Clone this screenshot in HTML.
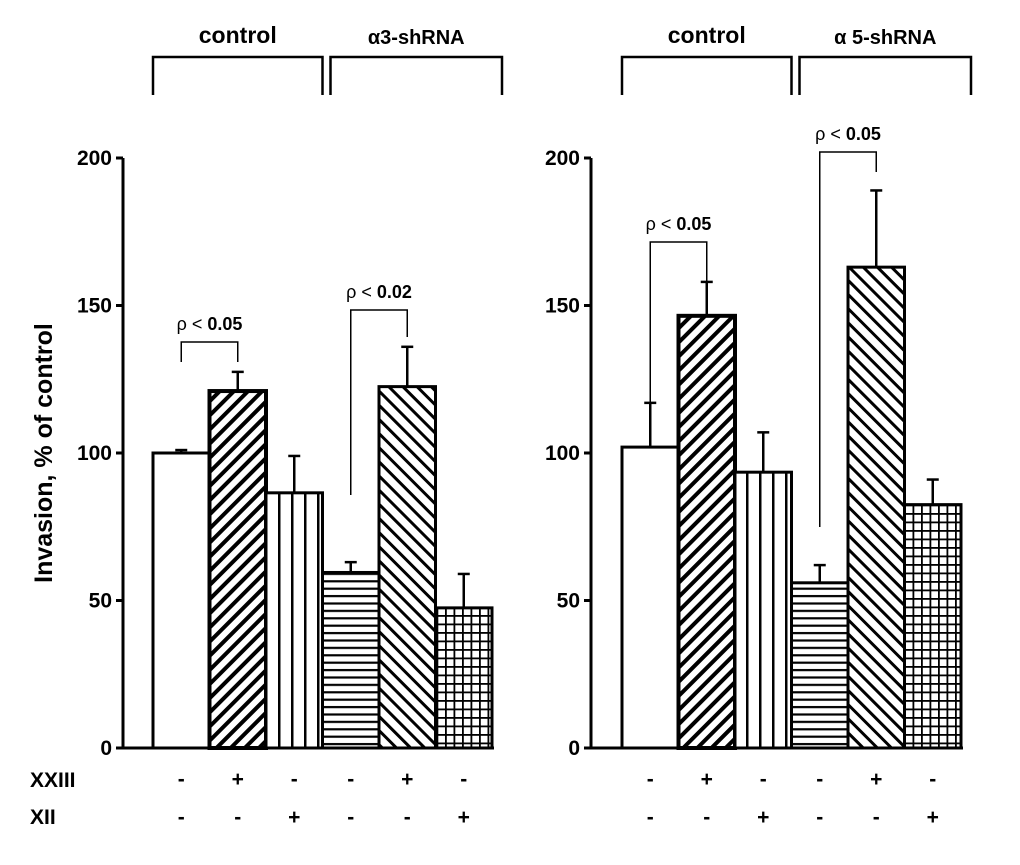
<!DOCTYPE html>
<html><head><meta charset="utf-8"><style>body{margin:0;background:#fff}svg{display:block}text{font-family:"Liberation Sans",sans-serif;fill:#000}</style></head>
<body>
<svg id="chart" width="1020" height="865" viewBox="0 0 1020 865">
<defs>
<pattern id="pFwd" patternUnits="userSpaceOnUse" width="10" height="10" patternTransform="rotate(45)"><rect width="10" height="10" fill="#fff"/><rect x="0" y="0" width="4" height="10" fill="#000"/></pattern>
<pattern id="pBack" patternUnits="userSpaceOnUse" width="10" height="10" patternTransform="rotate(-45)"><rect width="10" height="10" fill="#fff"/><rect x="0" y="0" width="3" height="10" fill="#000"/></pattern>
<pattern id="pVert" patternUnits="userSpaceOnUse" width="13" height="10"><rect width="13" height="10" fill="#fff"/><rect x="5" y="0" width="2.5" height="10" fill="#000"/></pattern>
<pattern id="pHorz" patternUnits="userSpaceOnUse" width="10" height="7.4"><rect width="10" height="7.4" fill="#fff"/><rect x="0" y="3" width="10" height="2.2" fill="#000"/></pattern>
<pattern id="pGrid" patternUnits="userSpaceOnUse" width="8.5" height="8.5"><rect width="8.5" height="8.5" fill="#fff"/><rect x="3" y="0" width="1.8" height="8.5" fill="#000"/><rect x="0" y="3" width="8.5" height="1.8" fill="#000"/></pattern>
</defs>
<g id="root"></g>
</svg>
<script>
const ticks=[0,50,100,150,200];
const leftValues=[100,121,86.5,59.5,122.5,47.5];
const leftErrors=[1,6.5,12.5,3.5,13.5,11.5];
const rightValues=[102,146.5,93.5,56,163,82.5];
const rightErrors=[15,11.5,13.5,6,26,8.5];
const xxiii=['-','+','-','-','+','-'];
const xii=['-','-','+','-','-','+'];
const fills=['#fff','url(#pFwd)','url(#pVert)','url(#pHorz)','url(#pBack)','url(#pGrid)'];
const NS='http://www.w3.org/2000/svg';
const root=document.getElementById('root');
function mk(tag,attrs,parent){const e=document.createElementNS(NS,tag);for(const k in attrs)e.setAttribute(k,attrs[k]);(parent||root).appendChild(e);return e;}
const y0=748,ppu=2.95;
function yS(v){return y0-v*ppu;}
function panel(axisX,barX,values,errors,groupLabels,pvals,name){
  const g=mk('g',{});
  
  
  mk('line',{x1:axisX,y1:yS(200),x2:axisX,y2:y0,stroke:'#000','stroke-width':3},g);
  const bw=56.5;
  mk('line',{x1:axisX,y1:y0,x2:barX+bw*6+2,y2:y0,stroke:'#000','stroke-width':3},g);
  ticks.forEach(t=>{
    mk('line',{x1:axisX-7,y1:yS(t),x2:axisX,y2:yS(t),stroke:'#000','stroke-width':3},g);
    const tx=mk('text',{x:axisX-11,y:yS(t)+7,'text-anchor':'end','font-size':21,'font-weight':'bold'},g);
    tx.textContent=t;
    
    
  });
  values.forEach((v,i)=>{
    const x=barX+i*bw,cx=x+bw/2;
    const ey=yS(v+errors[i]);
    mk('line',{x1:cx,y1:yS(v),x2:cx,y2:ey,stroke:'#000','stroke-width':2.5},g);
    mk('line',{x1:cx-6,y1:ey,x2:cx+6,y2:ey,stroke:'#000','stroke-width':2.5},g);
    const r=mk('rect',{x:x,y:yS(v),width:bw,height:v*ppu,fill:fills[i],stroke:'#000','stroke-width':i==1?4:3},g);
    
    
    const a=mk('text',{x:cx,y:786,'text-anchor':'middle','font-size':21,'font-weight':'bold'},g);a.textContent=xxiii[i];
    const b=mk('text',{x:cx,y:824,'text-anchor':'middle','font-size':21,'font-weight':'bold'},g);b.textContent=xii[i];
  });
  groupLabels.forEach((lab,k)=>{
    const x1=barX+k*3*bw+(k?8:0),x2=barX+(k+1)*3*bw-(k?-10:0);
    mk('path',{d:`M${x1} 95 V57 H${x2} V95`,fill:'none',stroke:'#000','stroke-width':2.5},g);
    const t=mk('text',{x:(x1+x2)/2,y:k?44:43,'text-anchor':'middle','font-size':k?20:23,'font-weight':'bold'},g);
    t.textContent=lab;
    
    
  });
  pvals.forEach(p=>{
    const a=barX+p.i*bw+bw/2,b=barX+(p.i+1)*bw+bw/2;
    mk('path',{d:`M${a} ${p.ya} V${p.top} H${b} V${p.yb}`,fill:'none',stroke:'#000','stroke-width':1.5},g);
    const t=mk('text',{x:(a+b)/2,y:p.top-12,'text-anchor':'middle','font-size':18,'font-weight':'bold'},g);
    t.innerHTML='<tspan font-weight="normal">ρ &lt; </tspan>'+p.label;
    
    
  });
}
panel(123,153,leftValues,leftErrors,['control','α3-shRNA'],[{i:0,ya:362,top:342,yb:362,label:'0.05'},{i:3,ya:495,top:310,yb:337,label:'0.02'}],'left-panel');
panel(591,622,rightValues,rightErrors,['control','α 5-shRNA'],[{i:0,ya:402,top:242,yb:282,label:'0.05'},{i:3,ya:527,top:152,yb:172,label:'0.05'}],'right-panel');
const yl=mk('text',{x:0,y:0,transform:'translate(52,453) rotate(-90)','text-anchor':'middle','font-size':25,'font-weight':'bold'});
yl.textContent='Invasion, % of control';


const r1=mk('text',{x:30,y:787,'font-size':21,'font-weight':'bold'});r1.textContent='XXIII';


const r2=mk('text',{x:30,y:824,'font-size':21,'font-weight':'bold'});r2.textContent='XII';


</script>
</body></html>
